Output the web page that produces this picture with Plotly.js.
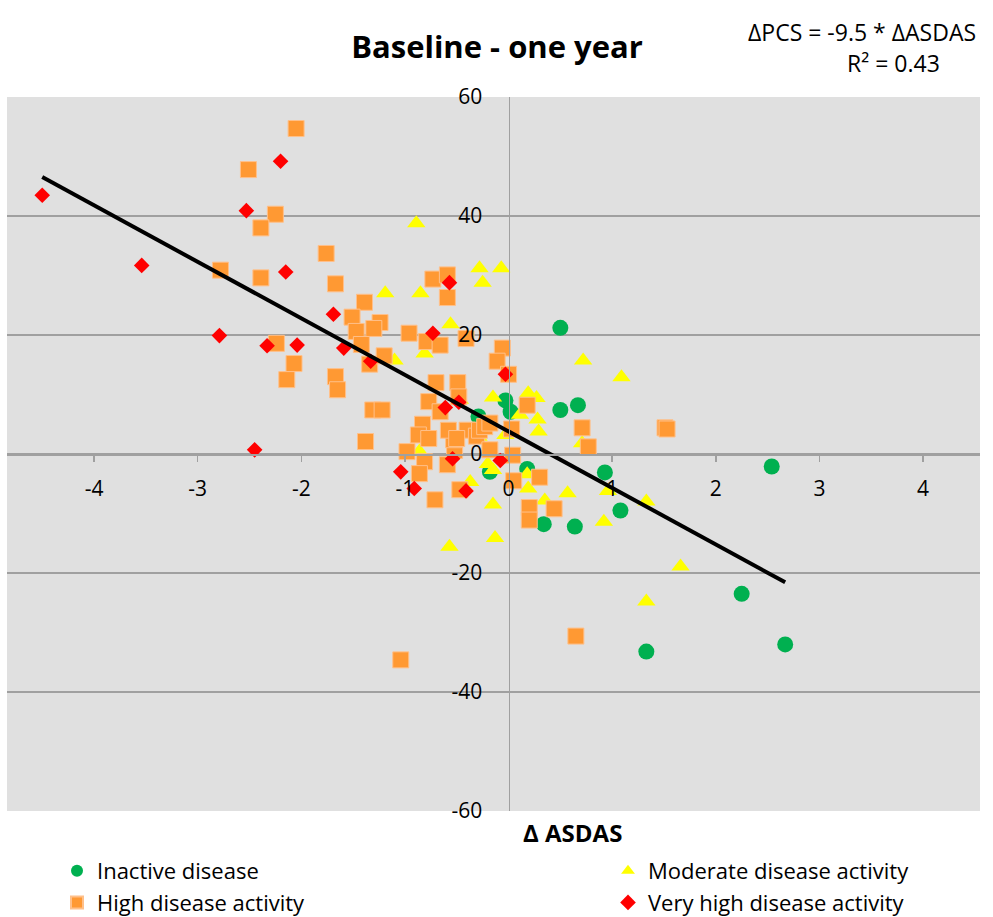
<!DOCTYPE html>
<html>
<head>
<meta charset="utf-8">
<script src="https://cdn.plot.ly/plotly-3.0.1.min.js"></script>
<style>html,body{margin:0;padding:0;background:#fff;}#chart{width:993px;height:917px;}</style>
</head>
<body>
<div id="chart"></div>
<script>
// ---- data ----
const inactiveX = [0.50, -0.03, 0.02, 0.50, 0.67, -0.29, -0.18, 0.18, 0.93, 1.08, 0.34, 0.64, 2.54, 2.25, 1.33, 2.67];
const inactiveY = [21.2, 9.0, 7.1, 7.4, 8.2, 6.3, -3.0, -2.5, -3.1, -9.5, -11.8, -12.2, -2.1, -23.5, -33.2, -32.0];

const moderateX = [-0.89, -0.28, -0.07, -0.25, -1.19, -0.85, -0.56, -0.81, -1.10, -0.15,
                   0.19, 0.27, 0.28, 0.29, -0.47, 0.72, 1.09, 0.11, 0.71, 0.18,
                   0.19, 0.57, 0.96, 0.35, -0.15, 0.92, -0.13, 1.33, 1.66, 1.33,
                   -0.86, -0.37, -0.20, -0.15, -0.57, -0.29, -0.03];
const moderateY = [38.8, 31.2, 31.2, 28.8, 27.0, 27.0, 21.8, 16.9, 15.7, 9.5,
                   10.2, 9.4, 5.8, 3.8, 9.1, 15.7, 12.9, 6.6, 1.8, -3.4,
                   -5.8, -6.6, -6.2, -7.8, -8.5, -11.4, -14.1, -8.0, -18.9, -24.8,
                   0.4, -4.7, -1.7, -2.7, -15.6, 2.9, 3.2];

const highX = [-2.05, -2.51, -2.25, -2.39, -1.76, -2.78, -2.39, -1.67, -2.24, -2.07,
               -2.14, -1.39, -0.73, -0.59, -0.59, -1.51, -1.24, -1.30, -1.47, -1.42,
               -1.34, -1.20, -1.67, -1.65, -0.96, -0.79, -0.66, -0.41, -0.70, -0.49,
               -0.06, -0.11, 0.00, 0.18, -1.31, -1.22, -1.38, -0.77, -0.83, -0.87,
               -0.77, -0.98, -0.81, -0.86, -0.59, -0.52, -0.53, -0.58, -0.66, -0.71,
               -0.47, -0.48, -0.40, -0.31, -0.28, -0.23, -0.18, -0.18, 0.04, 0.03,
               0.05, 0.20, 0.20, 0.30, 0.44, 0.71, 0.77, 1.51, 1.53, 0.65,
               -1.04, -0.50];
const highY = [54.7, 47.8, 40.3, 38.0, 33.7, 30.9, 29.6, 28.6, 18.6, 15.2,
               12.5, 25.5, 29.4, 30.1, 26.3, 23.0, 22.1, 21.1, 20.6, 18.4,
               15.1, 16.5, 13.0, 10.8, 20.3, 18.9, 18.3, 19.4, 12.0, 12.0,
               17.8, 15.6, 13.4, 8.2, 7.4, 7.4, 2.1, 8.8, 5.0, 3.2,
               2.6, 0.4, -1.3, -3.3, -1.8, 0.6, 2.4, 4.0, 7.1, -7.7,
               -6.0, 9.6, 4.0, 3.0, 4.0, 4.6, 5.2, 0.7, -0.2, 4.2,
               -4.5, -9.0, -11.1, -3.9, -9.2, 4.4, 1.2, 4.4, 4.2, -30.6,
               -34.6, 2.6];

const veryHighX = [-4.50, -3.54, -2.20, -2.53, -2.15, -2.79, -2.33, -2.04, -1.69, -2.45,
                   -1.59, -1.33, -0.73, -0.57, -0.03, -0.61, -0.48, -0.54, -0.08, -1.04,
                   -0.91, -0.41];
const veryHighY = [43.5, 31.7, 49.2, 40.9, 30.6, 19.9, 18.2, 18.3, 23.5, 0.7,
                   17.8, 15.6, 20.3, 28.8, 13.4, 7.8, 8.7, -0.8, -1.1, -3.0,
                   -5.8, -6.2];

const seriesNames = ["Inactive disease", "Moderate disease activity", "High disease activity", "Very high disease activity"];
const trendSlope = -9.5;
const trendIntercept = 3.8;
const xTicks = [-4, -3, -2, -1, 0, 1, 2, 3, 4];
const yTicks = [-60, -40, -20, 0, 20, 40, 60];

// ---- layout helpers ----
const xRange = [-4.84, 4.55];
const yRange = [-60, 60];
const allX = inactiveX.concat(moderateX, highX, veryHighX);
const tMin = Math.min.apply(null, allX), tMax = Math.max.apply(null, allX);
const trendX = [tMin, tMax];
const trendY = trendX.map(v => trendSlope * v + trendIntercept);

const FONT = "'Open Sans', Lato, sans-serif";

const traces = [
  {x: inactiveX, y: inactiveY, name: seriesNames[0], type: 'scatter', mode: 'markers', legend: 'legend',
   marker: {symbol: 'circle', size: 16, color: '#00b050'}},
  {x: moderateX, y: moderateY, name: seriesNames[1], type: 'scatter', mode: 'markers', legend: 'legend2',
   marker: {symbol: 'triangle-up', size: 16, color: '#ffff00'}},
  {x: highX, y: highY, name: seriesNames[2], type: 'scatter', mode: 'markers', legend: 'legend',
   marker: {symbol: 'square', size: 16, color: '#ff9933', line: {color: '#ffc08a', width: 1}}},
  {x: veryHighX, y: veryHighY, name: seriesNames[3], type: 'scatter', mode: 'markers', legend: 'legend2',
   marker: {symbol: 'diamond', size: 12, color: '#ff0000'}},
  {x: trendX, y: trendY, type: 'scatter', mode: 'lines', showlegend: false, hoverinfo: 'skip',
   line: {color: '#000000', width: 4}}
];

const L = 7, R = 13, T = 97, B = 106;
const W = 993, H = 917;
const pw = W - L - R, ph = H - T - B;
function px2paperX(p) { return (p - L) / pw; }
function px2paperY(p) { return (H - B - p) / ph; }

function legendAt(px, py, ew) {
  return {orientation: 'h', xref: 'container', yref: 'container',
          x: px / W, y: 1 - py / H, xanchor: 'left', yanchor: 'top',
          entrywidth: ew, entrywidthmode: 'pixels',
          traceorder: 'normal', itemsizing: 'constant', tracegroupgap: 0,
          font: {family: FONT, size: 22}, bgcolor: 'rgba(0,0,0,0)'};
}

const layout = {
  width: W, height: H,
  margin: {l: L, r: R, t: T, b: B, pad: 0, autoexpand: false},
  paper_bgcolor: '#ffffff',
  plot_bgcolor: '#e0e0e0',
  font: {family: FONT, color: '#000000', size: 21},
  title: {text: '<b>Baseline - one year</b>', font: {family: FONT, size: 31, color: '#000'},
          xref: 'container', yref: 'container', x: 497 / W, y: 1 - 47 / H,
          xanchor: 'center', yanchor: 'middle'},
  xaxis: {range: xRange, tickvals: xTicks, ticktext: xTicks.map(String),
          showgrid: false, zeroline: false, showline: true, linecolor: '#a0a0a0', linewidth: 1.5,
          ticks: 'outside', ticklen: 6, tickwidth: 1.5, tickcolor: '#a0a0a0',
          anchor: 'free', position: (0 - yRange[0]) / (yRange[1] - yRange[0]),
          ticklabelstandoff: 9, tickfont: {size: 21}, fixedrange: true, automargin: false},
  yaxis: {range: yRange, tickvals: yTicks, ticktext: yTicks.map(String),
          showgrid: true, gridcolor: '#a0a0a0', gridwidth: 1.5, zeroline: false,
          showline: true, linecolor: '#a0a0a0', linewidth: 1.5, ticks: '',
          anchor: 'free', position: (0 - xRange[0]) / (xRange[1] - xRange[0]),
          ticklabelstandoff: 22, tickfont: {size: 21}, fixedrange: true, automargin: false},
  showlegend: true,
  legend: legendAt(57, 850, 520),
  legend2: legendAt(608, 850, 520),
  annotations: [
    {text: 'ΔPCS = -9.5 * ΔASDAS', xref: 'paper', yref: 'paper', x: px2paperX(862), y: px2paperY(32),
     xanchor: 'center', yanchor: 'middle', showarrow: false, font: {family: FONT, size: 23}},
    {text: 'R² = 0.43', xref: 'paper', yref: 'paper', x: px2paperX(893), y: px2paperY(63),
     xanchor: 'center', yanchor: 'middle', showarrow: false, font: {family: FONT, size: 23}},
    {text: '<b>Δ ASDAS</b>', xref: 'paper', yref: 'paper', x: px2paperX(572), y: px2paperY(833),
     xanchor: 'center', yanchor: 'middle', showarrow: false, font: {family: FONT, size: 24}}
  ]
};

Plotly.newPlot('chart', traces, layout, {displayModeBar: false, staticPlot: true});
</script>
</body>
</html>
